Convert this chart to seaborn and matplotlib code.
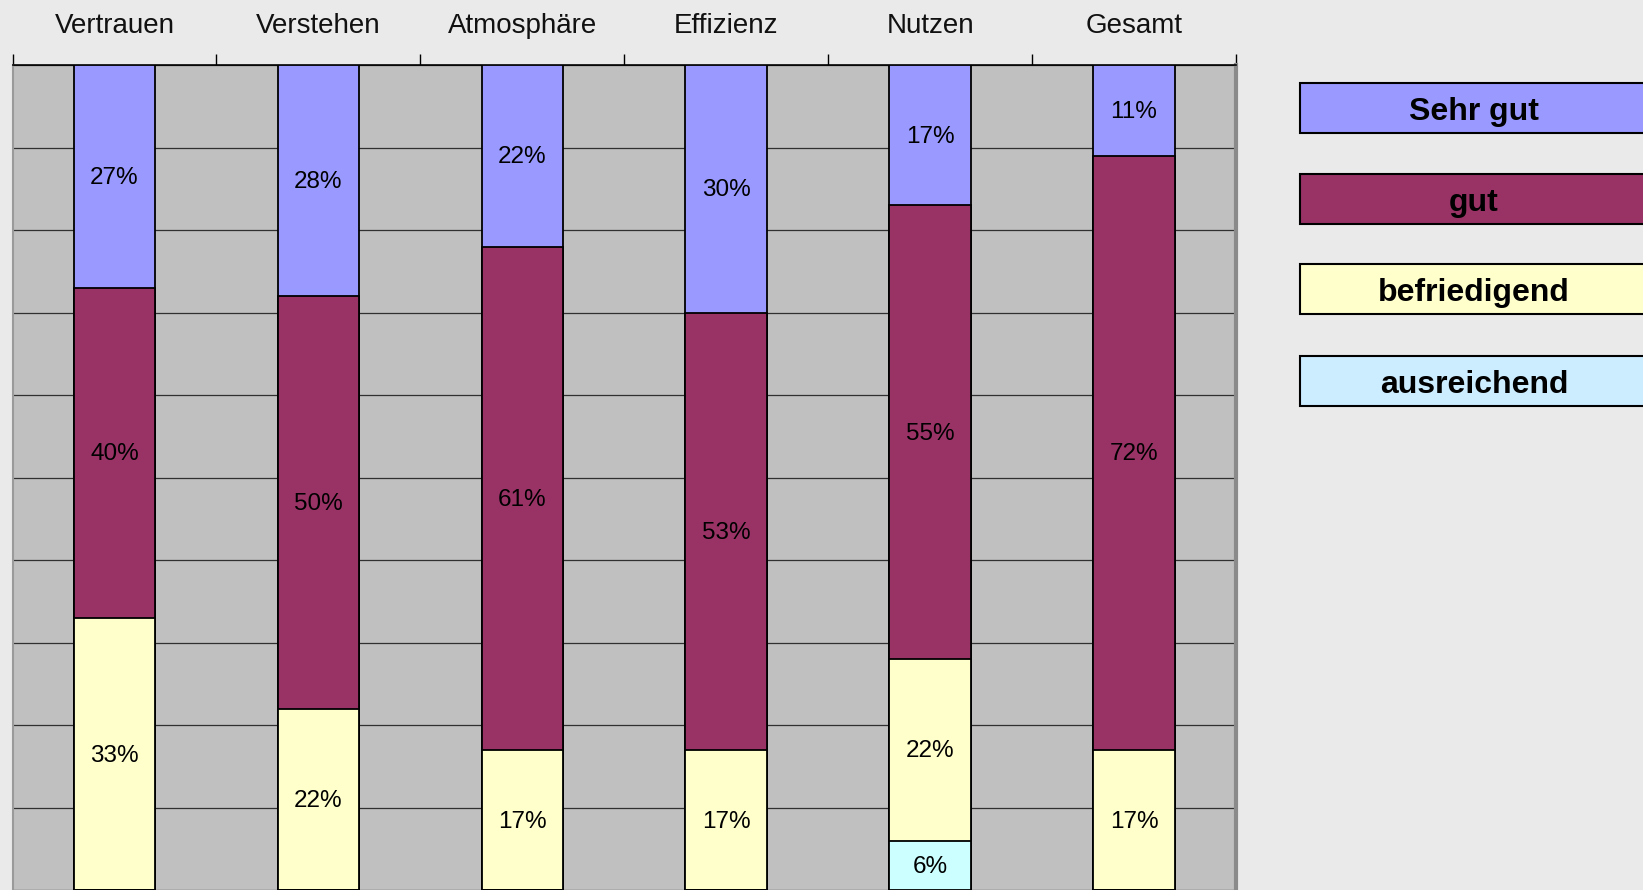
import numpy as np
import pandas as pd
import matplotlib

matplotlib.use('Agg')

import matplotlib.pyplot as plt
from matplotlib.patches import Rectangle
import seaborn as sns

sns.set_theme(style="white")
plt.rcParams['font.family'] = ['Liberation Sans', 'DejaVu Sans']

categories = ["Vertrauen", "Verstehen", "Atmosphäre", "Effizienz", "Nutzen", "Gesamt"]
sehr_gut = [27, 28, 22, 30, 17, 11]
gut = [40, 50, 61, 53, 55, 72]
befriedigend = [33, 22, 17, 17, 22, 17]
ausreichend = [0, 0, 0, 0, 6, 0]

series_names = ["Sehr gut", "gut", "befriedigend", "ausreichend"]
bar_colors = ["#9999FF", "#993366", "#FFFFCC", "#CCFFFF"]
legend_colors = ["#9999FF", "#993366", "#FFFFCC", "#CCECFF"]

W, H = 1643, 890
fig = plt.figure(figsize=(W / 100, H / 100), dpi=100)
fig.patch.set_facecolor("#EAEAEA")
ax = fig.add_axes([12.5 / W, 0, (1236 - 12.5) / W, (H - 65) / H])
ax.set_facecolor("#C0C0C0")

# series stacked from the bottom: ausreichend, befriedigend, gut, Sehr gut
stack = [ausreichend, befriedigend, gut, sehr_gut]
cum = np.cumsum(np.array(stack), axis=0)

# draw tallest cumulative first so lower segments sit on top
for i in range(len(stack) - 1, -1, -1):
    color = bar_colors[len(stack) - 1 - i]
    df = pd.DataFrame({"Kategorie": categories, "Wert": cum[i]})
    sns.barplot(data=df, x="Kategorie", y="Wert", color=color, saturation=1,
                width=0.4, edgecolor="black", linewidth=1.3, ax=ax, zorder=3)

# percentage labels centred in each segment
for i, vals in enumerate(stack):
    base = cum[i] - np.array(vals)
    for j, v in enumerate(vals):
        if v > 0:
            ax.text(j, base[j] + v / 2 - 0.2, f"{v}%", ha="center", va="center",
                    fontsize=17.5, color="black", zorder=5)

ax.set_ylim(0, 100)
ax.set_xlim(-0.5, len(categories) - 0.5)
ax.set_yticks(range(0, 101, 10))
ax.set_yticklabels([])
ax.tick_params(axis="y", length=0)
ax.yaxis.grid(True, color="#303030", linewidth=0.9)
ax.set_axisbelow(True)
ax.set_xlabel("")
ax.set_ylabel("")

ax.xaxis.tick_top()
ax.set_xticks(range(len(categories)))
ax.set_xticklabels(categories, fontsize=20, color="#111111")
ax.set_xticks(np.arange(-0.5, len(categories)), minor=True)
ax.tick_params(axis="x", which="major", length=0, pad=18.5)
ax.tick_params(axis="x", which="minor", length=8, width=1, color="black",
               direction="out", top=True, bottom=False)

ax.spines["bottom"].set_visible(False)
ax.spines["top"].set_color("black")
ax.spines["top"].set_linewidth(1.2)
ax.spines["left"].set_color("#9A9A9A")
ax.spines["left"].set_linewidth(1.5)
ax.spines["right"].set_color("#8A8A8A")
ax.spines["right"].set_linewidth(3)

# legend boxes on the right
box_left, box_w, box_h = 1300, 348, 50
box_tops = [83, 174, 264, 356]
for name, color, top in zip(series_names, legend_colors, box_tops):
    fig.add_artist(Rectangle((box_left / W, 1 - (top + box_h) / H), box_w / W, box_h / H,
                             transform=fig.transFigure, facecolor=color,
                             edgecolor="black", linewidth=1.5, clip_on=False))
    fig.text((box_left + box_w / 2) / W, 1 - (top + box_h / 2 + 4) / H, name,
             ha="center", va="center", fontsize=23, fontweight="bold", color="black")

fig.savefig("out.png", dpi=100, facecolor=fig.get_facecolor())
